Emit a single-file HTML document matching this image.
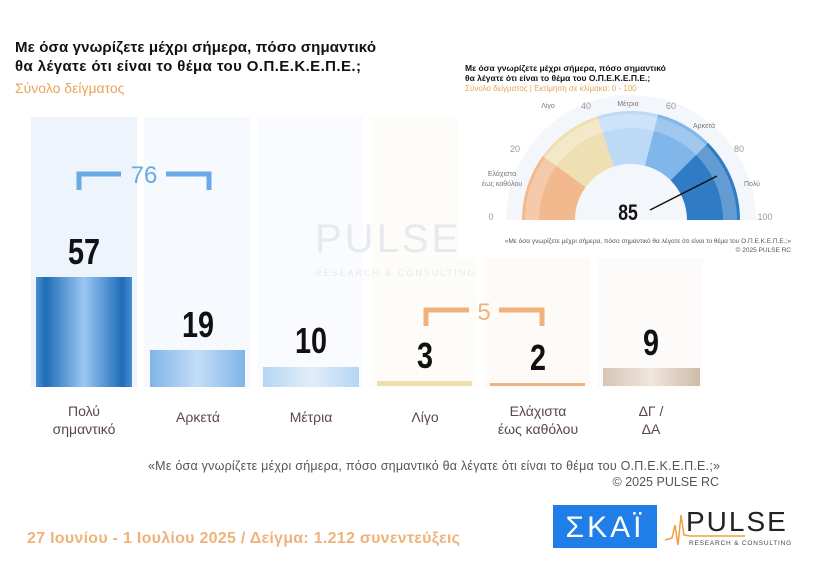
<!DOCTYPE html>
<html><head><meta charset="utf-8"><style>
body{margin:0;background:#fff;}
svg text{font-family:"Liberation Sans",sans-serif;}
.n{font-weight:bold;}
</style></head><body>
<svg width="814" height="569" viewBox="0 0 814 569" xmlns="http://www.w3.org/2000/svg">
<defs>
<linearGradient id="b1" x1="0" x2="1"><stop offset="0" stop-color="#4a8fd0"/><stop offset=".1" stop-color="#1f6db8"/><stop offset=".5" stop-color="#9cc6f3"/><stop offset=".9" stop-color="#1f6db8"/><stop offset="1" stop-color="#4a8fd0"/></linearGradient>
<linearGradient id="b2" x1="0" x2="1"><stop offset="0" stop-color="#7fb5e8"/><stop offset=".5" stop-color="#c4ddf6"/><stop offset="1" stop-color="#7fb5e8"/></linearGradient>
<linearGradient id="b3" x1="0" x2="1"><stop offset="0" stop-color="#b5d5f2"/><stop offset=".5" stop-color="#e1eefa"/><stop offset="1" stop-color="#b5d5f2"/></linearGradient>
<linearGradient id="b6" x1="0" x2="1"><stop offset="0" stop-color="#d5c5b5"/><stop offset=".5" stop-color="#f0e6dc"/><stop offset="1" stop-color="#cdbba8"/></linearGradient>
</defs>
<!-- title -->
<text x="15" y="52" font-size="15" font-weight="bold" fill="#111" textLength="361">Με όσα γνωρίζετε μέχρι σήμερα, πόσο σημαντικό</text>
<text x="15" y="71" font-size="15" font-weight="bold" fill="#111" textLength="346">θα λέγατε ότι είναι το θέμα του  Ο.Π.Ε.Κ.Ε.Π.Ε.;</text>
<text x="15" y="93" font-size="14" fill="#e8a45a">Σύνολο δείγματος</text>
<!-- column panels -->
<rect x="31" y="117" width="106" height="270" fill="#edf4fc"/>
<rect x="144" y="117" width="106" height="270" fill="#f6f9fd"/>
<rect x="257" y="117" width="106" height="270" fill="#f9fbfe"/>
<rect x="371" y="117" width="106" height="270" fill="#fdfcf8"/>
<rect x="484" y="117" width="106" height="270" fill="#fdfaf8"/>
<rect x="597" y="117" width="106" height="270" fill="#fcfbfa"/>
<!-- watermark -->
<text x="315" y="252" font-size="40" fill="#e6e9ee" letter-spacing="3">PULSE</text>
<text x="315" y="276" font-size="9" fill="#e6e9ee" letter-spacing="2">RESEARCH &amp; CONSULTING</text>
<!-- bars -->
<rect x="36" y="277" width="96" height="110" fill="url(#b1)"/>
<rect x="150" y="350" width="95" height="37" fill="url(#b2)"/>
<rect x="263" y="367" width="96" height="20" fill="url(#b3)"/>
<rect x="377" y="381" width="95" height="5" fill="#eedfae"/>
<rect x="490" y="383" width="95" height="3" fill="#eeb482"/>
<rect x="603" y="368" width="97" height="18" fill="url(#b6)"/>
<!-- values -->
<g font-size="36" font-weight="bold" fill="#111" text-anchor="middle">
<text transform="translate(84,264) scale(0.8,1)">57</text>
<text transform="translate(198,337) scale(0.8,1)">19</text>
<text transform="translate(311,353) scale(0.8,1)">10</text>
<text transform="translate(425,368) scale(0.8,1)">3</text>
<text transform="translate(538,370) scale(0.8,1)">2</text>
<text transform="translate(651,355) scale(0.8,1)">9</text>
</g>
<!-- brackets -->
<g fill="none" stroke="#6aaae6" stroke-width="5">
<path d="M79 190 V174 H121 M166 174 H209 V190"/>
</g>
<text x="144" y="183" font-size="24" fill="#6aaae6" text-anchor="middle">76</text>
<g fill="none" stroke="#f0b27a" stroke-width="5">
<path d="M426 326 V310 H469 M499 310 H542 V326"/>
</g>
<text x="484" y="320" font-size="24" fill="#f0b27a" text-anchor="middle">5</text>
<!-- labels -->
<g font-size="14" fill="#5b4848" text-anchor="middle">
<text x="84" y="416">Πολύ</text><text x="84" y="434">σημαντικό</text>
<text x="198" y="422">Αρκετά</text>
<text x="311" y="422">Μέτρια</text>
<text x="425" y="422">Λίγο</text>
<text x="538" y="416">Ελάχιστα</text><text x="538" y="434">έως καθόλου</text>
<text x="651" y="416">ΔΓ /</text><text x="651" y="434">ΔΑ</text>
</g>
<text x="148" y="470" font-size="12.5" fill="#555" textLength="572">«Με όσα γνωρίζετε μέχρι σήμερα, πόσο σημαντικό θα λέγατε ότι είναι το θέμα του Ο.Π.Ε.Κ.Ε.Π.Ε.;»</text>
<text x="719" y="486" font-size="12.5" fill="#555" text-anchor="end">©  2025  PULSE RC</text>
<text x="27" y="543" font-size="16" font-weight="bold" fill="#f0b27a" textLength="433">27 Ιουνίου - 1 Ιουλίου 2025  /  Δείγμα:  1.212 συνεντεύξεις</text>
<!-- logos -->
<rect x="553" y="505" width="104" height="43" fill="#1f7ee8"/>
<text x="605" y="537" font-size="30" fill="#fff" text-anchor="middle" letter-spacing="3">ΣΚΑΪ</text>
<path d="M665 540 L672 538 L675 525 L678 545 L681 515 L684 535 L690 536 H745" stroke="#f0a040" stroke-width="1.5" fill="none"/>
<text x="686" y="531" font-size="28" fill="#222" letter-spacing="2">PULSE</text>
<text x="689" y="545" font-size="6.5" fill="#444" letter-spacing="0.8">RESEARCH &amp; CONSULTING</text>
<!-- inset gauge -->
<rect x="458" y="58" width="345" height="200" fill="#fff"/>
<text x="465" y="71" font-size="8.5" font-weight="bold" fill="#111">Με όσα γνωρίζετε μέχρι σήμερα, πόσο σημαντικό</text>
<text x="465" y="81" font-size="8.5" font-weight="bold" fill="#111">θα λέγατε ότι είναι το θέμα του  Ο.Π.Ε.Κ.Ε.Π.Ε.;</text>
<text x="465" y="91" font-size="8" fill="#e8a45a">Σύνολο δείγματος  |  Εκτίμηση σε κλίμακα:  0 - 100</text>
<path d="M506 220 A125 125 0 0 1 756 220 Z" fill="#f3f7fb"/>
<path d="M522 220 A109 109 0 0 1 542.8 155.9 L585.7 187.1 A56 56 0 0 0 575 220 Z" fill="#f2b98e"/>
<path d="M542.8 155.9 A109 109 0 0 1 597.3 116.3 L613.7 166.7 A56 56 0 0 0 585.7 187.1 Z" fill="#efe0b4"/>
<path d="M597.3 116.3 A109 109 0 0 1 658.1 114.4 L644.9 165.8 A56 56 0 0 0 613.7 166.7 Z" fill="#bcdaf6"/>
<path d="M658.1 114.4 A109 109 0 0 1 708.1 142.9 L670.6 180.4 A56 56 0 0 0 644.9 165.8 Z" fill="#80b6ea"/>
<path d="M708.1 142.9 A109 109 0 0 1 740 220 L687 220 A56 56 0 0 0 670.6 180.4 Z" fill="#2f7bc4"/>
<path d="M532 220 A99 99 0 0 1 730 220" fill="none" stroke="#fff" stroke-opacity=".25" stroke-width="14"/>
<g font-size="9" fill="#999" text-anchor="middle">
<text x="491" y="220">0</text><text x="515" y="152">20</text><text x="586" y="109">40</text>
<text x="671" y="109">60</text><text x="739" y="152">80</text><text x="765" y="220">100</text>
</g>
<g font-size="7" fill="#777" text-anchor="middle">
<text x="548" y="108">Λίγο</text><text x="628" y="106">Μέτρια</text><text x="704" y="128">Αρκετά</text>
<text x="752" y="186">Πολύ</text><text x="502" y="176">Ελάχιστα</text><text x="502" y="186">έως καθόλου</text>
</g>
<line x1="650" y1="210" x2="717" y2="176" stroke="#111" stroke-width="1.5"/>
<text transform="translate(628,220) scale(0.8,1)" font-size="22" font-weight="bold" fill="#111" text-anchor="middle">85</text>
<text x="791" y="243" font-size="6.5" fill="#555" text-anchor="end">«Με όσα γνωρίζετε μέχρι σήμερα, πόσο σημαντικό θα λέγατε ότι είναι το θέμα του Ο.Π.Ε.Κ.Ε.Π.Ε.;»</text>
<text x="791" y="252" font-size="6.5" fill="#555" text-anchor="end">©  2025  PULSE RC</text>
</svg>
</body></html>
